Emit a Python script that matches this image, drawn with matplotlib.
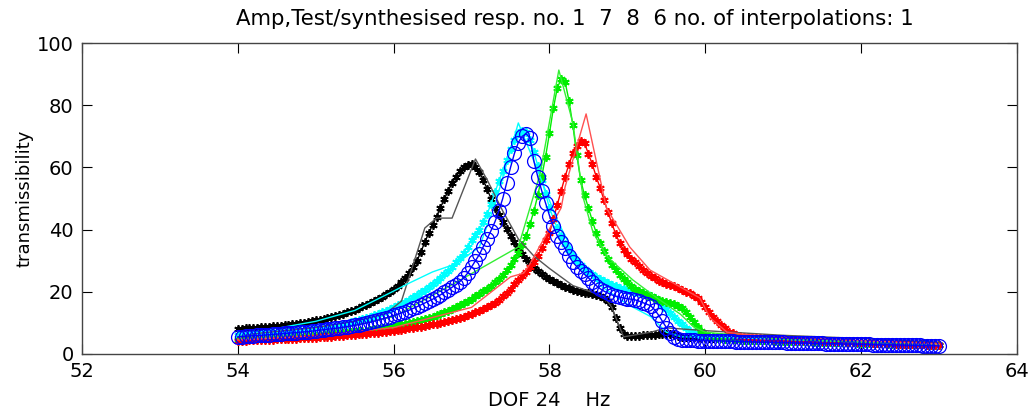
import numpy as np
import matplotlib
matplotlib.use('Agg')
import matplotlib.pyplot as plt

plt.rcParams['font.family'] = ['DejaVu Sans']

# synthesised responses, 0.05 Hz grid from 54 to 63 Hz
freq_syn = np.round(np.linspace(54.0, 63.0, 181), 2)

syn_black = [8.0, 8.1, 8.2, 8.3, 8.4, 8.5, 8.6, 8.7, 8.8, 8.9,
             9.0, 9.15, 9.3, 9.45, 9.6, 9.75, 9.9, 10.1, 10.3, 10.55,
             10.8, 11.05, 11.3, 11.6, 11.9, 12.25, 12.6, 13.0, 13.4, 13.85,
             14.3, 14.8, 15.3, 15.85, 16.4, 17.05, 17.7, 18.45, 19.2, 20.0,
             20.8, 21.8, 23.0, 24.4, 26.0, 27.9, 30.0, 32.8, 36.0, 38.8,
             41.5, 44.2, 47.0, 49.8, 52.5, 54.9, 57.0, 58.7, 60.0, 60.8,
             61.0, 60.2, 58.5, 56.0, 53.0, 50.0, 47.0, 44.7, 42.5, 40.2,
             38.0, 36.0, 34.0, 32.2, 30.5, 29.1, 27.8, 26.8, 25.8, 24.9,
             24.0, 23.4, 22.8, 22.2, 21.6, 21.1, 20.6, 20.3, 20.0, 19.7,
             19.5, 19.2, 19.0, 18.6, 18.0, 17.0, 15.0, 11.5, 8.5, 6.5,
             5.8, 5.7, 5.8, 5.9, 6.0, 6.1, 6.2, 6.25, 6.3, 6.35,
             6.4, 6.3, 6.0, 5.8, 5.6, 5.5, 5.4, 5.35, 5.3, 5.25,
             5.2, 5.15, 5.1, 5.1, 5.1, 5.05, 5.0, 4.95, 4.9, 4.9,
             4.9, 4.85, 4.8, 4.75, 4.7, 4.7, 4.7, 4.65, 4.6, 4.55,
             4.5, 4.5, 4.5, 4.45, 4.4, 4.35, 4.3, 4.3, 4.3, 4.25,
             4.2, 4.15, 4.1, 4.05, 4.0, 3.95, 3.9, 3.9, 3.9, 3.85,
             3.8, 3.75, 3.7, 3.65, 3.6, 3.6, 3.6, 3.55, 3.5, 3.45,
             3.4, 3.35, 3.3, 3.3, 3.3, 3.25, 3.2, 3.15, 3.1, 3.05,
             3.0]
syn_cyan = [6.0, 6.05, 6.1, 6.2, 6.3, 6.4, 6.5, 6.6, 6.7, 6.8,
            6.9, 7.0, 7.1, 7.2, 7.3, 7.45, 7.6, 7.75, 7.9, 8.05,
            8.2, 8.35, 8.5, 8.7, 8.9, 9.1, 9.3, 9.55, 9.8, 10.15,
            10.5, 10.85, 11.2, 11.6, 12.0, 12.45, 12.9, 13.4, 13.9, 14.45,
            15.0, 15.6, 16.2, 16.85, 17.5, 18.25, 19.0, 19.8, 20.6, 21.55,
            22.5, 23.5, 24.5, 25.6, 26.8, 28.1, 29.5, 31.0, 32.5, 34.5,
            36.5, 38.2, 40.0, 42.3, 45.0, 48.3, 52.0, 55.5, 59.0, 62.5,
            66.0, 68.8, 71.0, 71.8, 71.5, 68.8, 65.0, 60.5, 56.0, 51.5,
            47.0, 43.5, 40.5, 37.8, 35.5, 33.4, 31.5, 29.9, 28.5, 27.4,
            26.5, 25.6, 24.8, 24.1, 23.5, 22.9, 22.3, 21.8, 21.3, 20.9,
            20.6, 20.3, 20.0, 19.8, 19.5, 19.2, 18.8, 18.0, 17.0, 15.8,
            14.5, 13.2, 12.0, 10.7, 9.5, 8.4, 7.5, 6.8, 6.3, 6.0,
            5.8, 5.7, 5.6, 5.55, 5.5, 5.45, 5.4, 5.35, 5.3, 5.25,
            5.2, 5.15, 5.1, 5.05, 5.0, 4.95, 4.9, 4.85, 4.8, 4.75,
            4.7, 4.65, 4.6, 4.55, 4.5, 4.45, 4.4, 4.35, 4.3, 4.25,
            4.2, 4.15, 4.1, 4.05, 4.0, 3.95, 3.9, 3.9, 3.9, 3.85,
            3.8, 3.75, 3.7, 3.65, 3.6, 3.55, 3.5, 3.45, 3.4, 3.4,
            3.4, 3.35, 3.3, 3.25, 3.2, 3.15, 3.1, 3.05, 3.0, 2.95,
            2.9]
syn_green = [4.6, 4.65, 4.7, 4.75, 4.8, 4.85, 4.9, 4.95, 5.0, 5.05,
             5.1, 5.15, 5.2, 5.3, 5.4, 5.45, 5.5, 5.6, 5.7, 5.8,
             5.9, 6.0, 6.1, 6.2, 6.3, 6.4, 6.5, 6.65, 6.8, 6.95,
             7.1, 7.25, 7.4, 7.55, 7.7, 7.9, 8.1, 8.3, 8.5, 8.75,
             9.0, 9.25, 9.5, 9.75, 10.0, 10.3, 10.6, 10.95, 11.3, 11.65,
             12.0, 12.45, 12.9, 13.4, 13.9, 14.45, 15.0, 15.65, 16.3, 17.05,
             17.8, 18.55, 19.3, 20.15, 21.0, 22.0, 23.0, 24.2, 25.5, 27.0,
             28.5, 30.4, 32.5, 35.0, 38.0, 41.8, 46.0, 51.0, 57.0, 63.5,
             71.0, 79.0, 85.5, 88.5, 87.5, 81.5, 73.5, 64.0, 56.0, 51.0,
             47.0, 42.8, 39.0, 35.8, 33.0, 30.6, 28.5, 26.9, 25.5, 24.2,
             23.0, 22.0, 21.0, 20.3, 19.6, 19.0, 18.5, 18.0, 17.5, 17.2,
             16.8, 16.4, 16.0, 15.5, 14.8, 13.6, 12.0, 10.4, 8.8, 7.5,
             6.5, 5.9, 5.5, 5.2, 5.0, 4.9, 4.8, 4.75, 4.7, 4.65,
             4.6, 4.55, 4.5, 4.5, 4.5, 4.45, 4.4, 4.35, 4.3, 4.3,
             4.3, 4.25, 4.2, 4.15, 4.1, 4.1, 4.1, 4.05, 4.0, 3.95,
             3.9, 3.9, 3.9, 3.85, 3.8, 3.75, 3.7, 3.7, 3.7, 3.65,
             3.6, 3.55, 3.5, 3.5, 3.5, 3.45, 3.4, 3.35, 3.3, 3.3,
             3.3, 3.25, 3.2, 3.15, 3.1, 3.1, 3.1, 3.05, 3.0, 2.95,
             2.9]
syn_red = [4.2, 4.25, 4.3, 4.35, 4.4, 4.45, 4.5, 4.55, 4.6, 4.65,
           4.7, 4.75, 4.8, 4.85, 4.9, 4.95, 5.0, 5.1, 5.2, 5.25,
           5.3, 5.4, 5.5, 5.55, 5.6, 5.7, 5.8, 5.9, 6.0, 6.1,
           6.2, 6.3, 6.4, 6.55, 6.7, 6.8, 6.9, 7.05, 7.2, 7.35,
           7.5, 7.65, 7.8, 8.0, 8.2, 8.4, 8.6, 8.8, 9.0, 9.25,
           9.5, 9.75, 10.0, 10.3, 10.6, 10.95, 11.3, 11.65, 12.0, 12.45,
           12.9, 13.4, 13.9, 14.45, 15.0, 15.7, 16.5, 17.5, 18.5, 19.7,
           21.0, 22.4, 23.8, 25.1, 26.5, 28.0, 29.5, 31.5, 34.0, 36.5,
           38.8, 43.5, 48.0, 52.5, 57.0, 61.0, 64.5, 67.0, 68.5, 67.8,
           64.3, 61.0, 57.0, 53.4, 49.5, 45.8, 42.0, 38.6, 35.7, 33.6,
           32.0, 30.7, 29.5, 28.2, 27.0, 26.0, 25.2, 24.3, 23.5, 23.0,
           22.5, 22.1, 21.8, 21.2, 20.5, 20.0, 19.5, 18.8, 18.0, 16.6,
           15.0, 13.5, 12.0, 10.6, 9.3, 8.2, 7.2, 6.6, 6.2, 5.9,
           5.6, 5.45, 5.3, 5.2, 5.1, 5.05, 5.0, 4.95, 4.9, 4.85,
           4.8, 4.75, 4.7, 4.65, 4.6, 4.55, 4.5, 4.45, 4.4, 4.35,
           4.3, 4.25, 4.2, 4.15, 4.1, 4.05, 4.0, 3.95, 3.9, 3.85,
           3.8, 3.75, 3.7, 3.65, 3.6, 3.55, 3.5, 3.45, 3.4, 3.35,
           3.3, 3.3, 3.3, 3.25, 3.2, 3.15, 3.1, 3.05, 3.0, 2.95,
           2.9]
syn_blue = [5.5, 5.6, 5.7, 5.8, 5.9, 5.95, 6.0, 6.1, 6.2, 6.3,
            6.4, 6.5, 6.6, 6.7, 6.8, 6.9, 7.0, 7.1, 7.2, 7.35,
            7.5, 7.65, 7.8, 7.95, 8.1, 8.25, 8.4, 8.6, 8.8, 9.0,
            9.2, 9.45, 9.7, 9.95, 10.2, 10.55, 10.9, 11.25, 11.6, 12.0,
            12.4, 12.8, 13.2, 13.65, 14.1, 14.65, 15.2, 15.8, 16.4, 17.0,
            17.6, 18.3, 19.0, 19.8, 20.6, 21.45, 22.3, 23.3, 24.5, 26.0,
            28.0, 30.0, 32.0, 34.5, 37.0, 39.7, 42.5, 46.0, 50.0, 55.0,
            60.0, 64.5, 68.0, 70.0, 70.8, 69.5, 62.0, 57.0, 52.5, 48.5,
            44.5, 41.0, 38.0, 36.0, 34.0, 31.6, 29.5, 28.1, 26.8, 25.6,
            24.5, 23.2, 22.0, 21.0, 20.2, 19.6, 19.0, 18.6, 18.3, 18.0,
            17.8, 17.6, 17.4, 17.0, 16.5, 16.0, 15.5, 14.2, 12.5, 10.5,
            8.5, 6.8, 5.5, 4.9, 4.5, 4.45, 4.4, 4.35, 4.3, 4.3,
            4.3, 4.25, 4.2, 4.2, 4.2, 4.15, 4.1, 4.05, 4.0, 4.0,
            4.0, 3.95, 3.9, 3.85, 3.8, 3.8, 3.8, 3.75, 3.7, 3.7,
            3.7, 3.65, 3.6, 3.55, 3.5, 3.5, 3.5, 3.45, 3.4, 3.4,
            3.4, 3.35, 3.3, 3.3, 3.3, 3.25, 3.2, 3.2, 3.2, 3.15,
            3.1, 3.1, 3.1, 3.05, 3.0, 3.0, 3.0, 2.95, 2.9, 2.9,
            2.9, 2.85, 2.8, 2.8, 2.8, 2.75, 2.7, 2.7, 2.7, 2.65,
            2.6]

# measured (test) responses, coarse
freq_test_black = [54.0, 55.0, 55.5, 55.9, 56.1, 56.4, 56.55, 56.75, 57.05, 57.2, 57.4, 57.6,
                   57.8, 58.0, 58.3, 58.7, 58.8, 58.95, 59.3, 59.5, 60.0, 61.0, 62.0, 63.0]
test_black = [6.0, 8.5, 10.5, 13.0, 17.0, 40.5, 43.7, 43.7, 62.7, 56.0, 46.0, 37.0,
              31.5, 27.5, 22.0, 18.5, 15.0, 5.5, 7.0, 8.4, 7.5, 6.0, 5.0, 3.8]
freq_test_cyan = [54.0, 55.0, 55.5, 55.95, 56.2, 56.5, 56.8, 57.1, 57.3, 57.6, 57.8,
                  58.1, 58.3, 58.65, 59.0, 59.3, 59.5, 59.7, 60.0, 61.0, 62.0, 63.0]
test_cyan = [6.0, 10.5, 14.0, 19.6, 22.8, 26.4, 29.0, 34.4, 48.0, 74.3, 62.0,
             43.0, 33.0, 22.0, 16.0, 12.0, 7.0, 5.5, 5.5, 4.7, 3.8, 3.0]
freq_test_green = [54.0, 55.0, 56.0, 56.8, 57.6, 57.88, 58.12, 58.3, 58.43, 58.56,
                   58.74, 59.07, 59.38, 59.68, 59.85, 60.0, 61.0, 62.0, 63.0]
test_green = [4.8, 6.5, 12.0, 23.0, 34.4, 58.0, 91.3, 74.3, 50.5, 39.0,
              31.3, 23.8, 18.0, 12.8, 8.7, 7.0, 4.7, 3.8, 3.0]
freq_test_red = [54.0, 55.0, 56.0, 57.0, 57.5, 57.67, 57.75, 58.15, 58.2, 58.47, 58.73,
                 59.03, 59.29, 59.59, 59.93, 60.06, 60.28, 60.5, 61.0, 62.0, 63.0]
test_red = [4.5, 5.8, 8.5, 15.0, 24.8, 26.0, 29.0, 47.0, 53.7, 77.2, 47.0,
            34.4, 27.0, 22.8, 18.0, 11.6, 7.0, 6.3, 5.5, 4.3, 3.2]

x_ticks = [52, 54, 56, 58, 60, 62, 64]
y_ticks = [0, 20, 40, 60, 80, 100]

fig = plt.figure(figsize=(10.35, 4.12), dpi=100)
ax = fig.add_axes([0.0792, 0.1408, 0.9034, 0.7548])

# asterisk-like markers for the synthesised curves
ast = (6, 2, 0)
ax.plot(freq_syn, syn_black, color='black', marker=ast, ms=6, mew=1.3, lw=1)
ax.plot(freq_syn, syn_cyan, color='#00ffff', marker=ast, ms=6, mew=1.3, lw=1)
ax.plot(freq_syn, syn_green, color='#00ee00', marker=ast, ms=6, mew=1.3, lw=1)
ax.plot(freq_syn, syn_red, color='#ff0000', marker=ast, ms=6, mew=1.3, lw=1)

# thin test lines
ax.plot(freq_test_black, test_black, color='#555555', lw=1)
ax.plot(freq_test_cyan, test_cyan, color='#00ffff', lw=1)
ax.plot(freq_test_green, test_green, color='#33ee33', lw=1)
ax.plot(freq_test_red, test_red, color='#ff5050', lw=1)

# interpolated response
ax.plot(freq_syn, syn_blue, color='#0000ff', marker='o', ms=10, mfc='none', mew=0.9, lw=1)

ax.set_xlim(52, 64)
ax.set_ylim(0, 100)
ax.set_xticks(x_ticks)
ax.set_yticks(y_ticks)
ax.tick_params(direction='in', length=7, width=0.8, labelsize=14, top=True, right=True, pad=6)
for s in ax.spines.values():
    s.set_color('#444444')
    s.set_linewidth(1.0)

ax.set_title('Amp,Test/synthesised resp. no. 1  7  8  6 no. of interpolations: 1',
             fontsize=15.3, pad=13, x=0.527)
ax.set_xlabel('DOF 24    Hz', fontsize=14, labelpad=7)
ax.set_ylabel('transmissibility', fontsize=13, labelpad=2)

fig.savefig('out.png', dpi=100)
